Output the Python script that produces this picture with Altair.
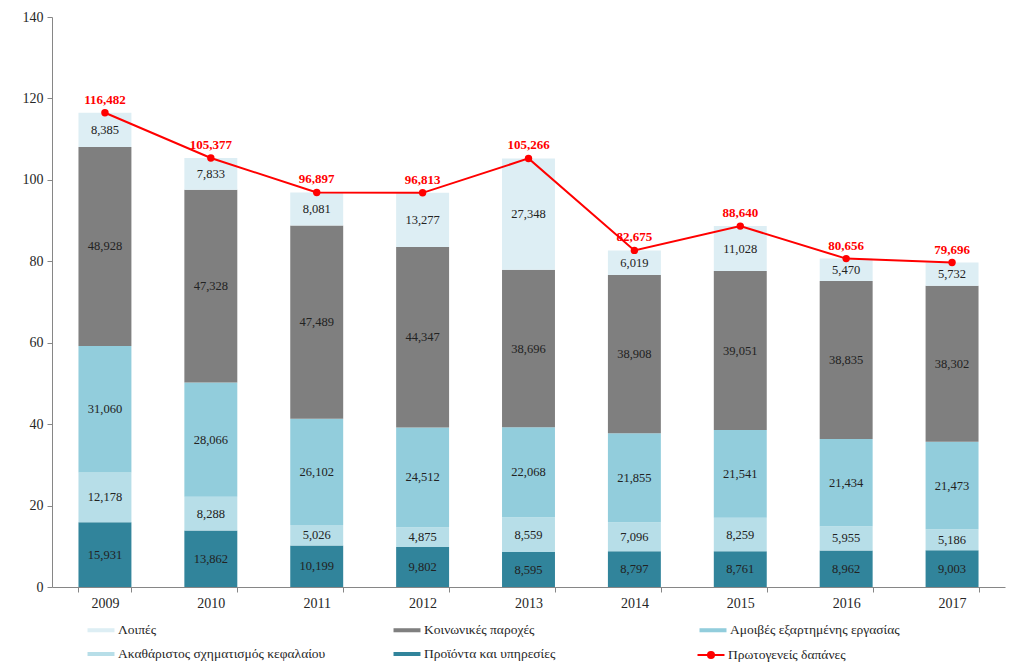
import altair as alt
import pandas as pd

years = ["2009", "2010", "2011", "2012", "2013", "2014", "2015", "2016", "2017"]
products = [15931, 13862, 10199, 9802, 8595, 8797, 8761, 8962, 9003]
capital = [12178, 8288, 5026, 4875, 8559, 7096, 8259, 5955, 5186]
wages = [31060, 28066, 26102, 24512, 22068, 21855, 21541, 21434, 21473]
social = [48928, 47328, 47489, 44347, 38696, 38908, 39051, 38835, 38302]
other = [8385, 7833, 8081, 13277, 27348, 6019, 11028, 5470, 5732]
totals = [116482, 105377, 96897, 96813, 105266, 82675, 88640, 80656, 79696]

stack_names = ["Προϊόντα και υπηρεσίες", "Ακαθάριστος σχηματισμός κεφαλαίου",
               "Αμοιβές εξαρτημένης εργασίας", "Κοινωνικές παροχές", "Λοιπές"]
legend_order = ["Λοιπές", "Κοινωνικές παροχές", "Αμοιβές εξαρτημένης εργασίας",
                "Ακαθάριστος σχηματισμός κεφαλαίου", "Προϊόντα και υπηρεσίες"]
legend_colors = ["#DDEEF4", "#7F7F7F", "#92CDDC", "#B7DEE8", "#31849B"]
line_name = "Πρωτογενείς δαπάνες"

series_values = [products, capital, wages, social, other]
rows = []
for k, (name, vals) in enumerate(zip(stack_names, series_values)):
    for y, v in zip(years, vals):
        rows.append({"year": y, "series": name, "value": v, "order": k})
bars_df = pd.DataFrame(rows)
line_df = pd.DataFrame({"year": years, "value": totals, "name": [line_name] * len(years)})

x_enc = alt.X("year:N", title=None,
              scale=alt.Scale(paddingInner=0.5, paddingOuter=0.25),
              axis=alt.Axis(labelAngle=0, tickBand="extent", domainColor="#868686",
                            tickColor="#868686", tickSize=5, labelFont="Liberation Serif",
                            labelFontSize=14, labelColor="#262626", labelPadding=4))
y_scale = alt.Scale(domain=[0, 140], nice=False)
y_axis = alt.Axis(values=[0, 20, 40, 60, 80, 100, 120, 140], grid=False, domainColor="#868686",
                  tickColor="#868686", tickSize=5, labelFont="Liberation Serif",
                  labelFontSize=14, labelColor="#262626", labelPadding=4)

legend_font = "Liberation Serif"

base = alt.Chart(bars_df).transform_calculate(
    b="datum.value / 1000"
).transform_stack(
    stack="b", groupby=["year"], as_=["y0", "y1"], sort=[alt.SortField("order")]
).transform_calculate(mid="(datum.y0 + datum.y1) / 2")

bars = base.mark_bar().encode(
    x=x_enc,
    y=alt.Y("y0:Q", scale=y_scale, axis=y_axis, title=None),
    y2="y1:Q",
    color=alt.Color("series:N", scale=alt.Scale(domain=legend_order, range=legend_colors),
                    legend=alt.Legend(title=None, orient="none", direction="horizontal",
                                      legendX=42, legendY=606,
                                      columns=3, gridAlign="all", columnPadding=67, rowPadding=10,
                                      symbolType="M-2,-0.3H2V0.3H-2Z", symbolSize=182,
                                      symbolStrokeWidth=0, labelOffset=10,
                                      labelFont=legend_font,
                                      labelFontSize=13.5, labelColor="#262626", labelLimit=400)),
)

seg_text = base.mark_text(font="Liberation Serif", fontSize=12.5, color="#222222").encode(
    x=alt.X("year:N"),
    y=alt.Y("mid:Q"),
    text=alt.Text("value:Q", format=","),
)

line = alt.Chart(line_df).transform_calculate(b="datum.value / 1000").mark_line(
    strokeWidth=2, point=alt.OverlayMarkDef(filled=True, size=55, color="#FF0000")
).encode(
    x=alt.X("year:N"),
    y=alt.Y("b:Q"),
    color=alt.Color("name:N", scale=alt.Scale(domain=[line_name], range=["#FF0000"]),
                    legend=alt.Legend(title=None, orient="none", legendX=651, legendY=630,
                                      symbolType="M-2,0H2M-0.45,0A0.45,0.45,0,1,1,0.45,0A0.45,0.45,0,1,1,-0.45,0Z",
                                      symbolSize=182, symbolStrokeWidth=2, symbolFillColor="#FF0000",
                                      labelOffset=9,
                                      labelFont=legend_font,
                                      labelFontSize=13.5, labelColor="#262626", labelLimit=400)),
)

total_text = alt.Chart(line_df).transform_calculate(b="datum.value / 1000").mark_text(
    font="Liberation Serif", fontSize=13, fontWeight="bold", color="#FF0000", dy=-13
).encode(
    x=alt.X("year:N"),
    y=alt.Y("b:Q"),
    text=alt.Text("value:Q", format=","),
)

chart = alt.layer(bars, seg_text, line, total_text).resolve_scale(color="independent").properties(
    width=953, height=570,
    autosize=alt.AutoSizeParams(type="none"),
    padding={"left": 44, "top": 9, "right": 10, "bottom": 75},
    background="white",
).configure_view(stroke=None)

chart.save("out.html", embed_options={"renderer": "svg", "actions": False})
